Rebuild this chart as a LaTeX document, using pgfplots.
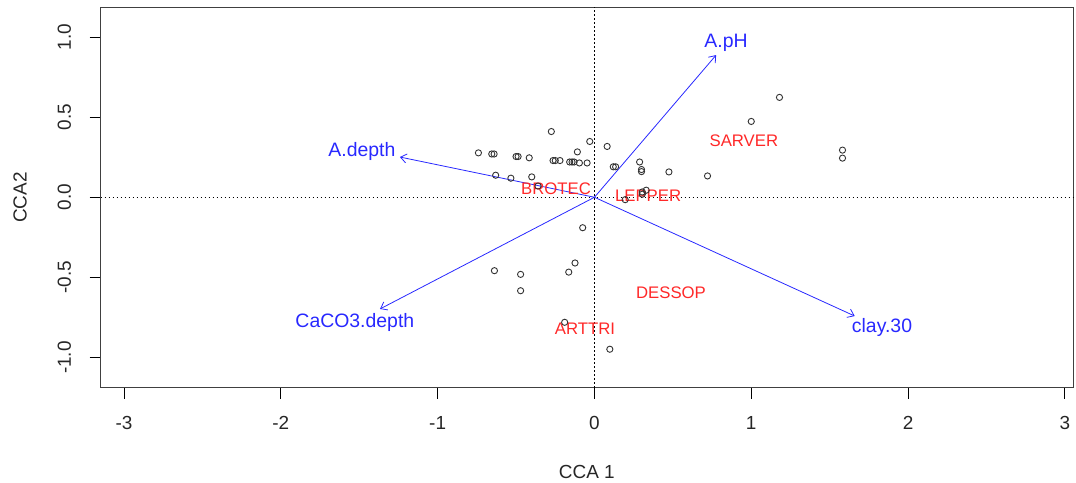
\documentclass[border=0pt]{standalone}
\usepackage{pgfplots}
\pgfplotsset{compat=1.18}
\usepackage{fontspec}
\setmainfont{Liberation Sans}
\usetikzlibrary{arrows.meta}
\definecolor{rblue}{RGB}{40,40,255}
\definecolor{rred}{RGB}{255,40,40}
\begin{document}
\begin{tikzpicture}
\begin{axis}[
  at={(0,0)}, anchor=south west,
  scale only axis, width=972.3bp, height=380.4bp,
  xmin=-3.149, xmax=3.052, ymin=-1.188, ymax=1.185,
  axis line style={black!75, line width=0.9bp},
  tick style={black, line width=0.9bp},
  tick align=outside, major tick length=11bp, tick pos=left,
  xtick={-3,-2,-1,0,1,2,3},
  xticklabels={-3,-2,-1,0,1,2,3},
  ytick={-1,-0.5,0,0.5,1},
  yticklabels={-1.0,-0.5,0.0,0.5,1.0},
  ticklabel style={font=\fontsize{19}{22}\selectfont, black!85},
  yticklabel style={xshift=-15bp, rotate=90, anchor=south},
  xticklabel style={yshift=-14bp, anchor=north},
  xlabel={CCA 1}, ylabel={CCA2},
  label style={font=\fontsize{19}{22}\selectfont, black!85},
  xlabel style={at={(axis description cs:0.5,-0.2216)}, anchor=center},
  ylabel style={at={(axis description cs:-0.083,0.5)}, anchor=center},
  clip=false,
]
% reference lines
\addplot[black, line width=1.1bp, dash pattern=on 1.3bp off 2.7bp] coordinates {(-3.149,0) (3.052,0)};
\addplot[black, line width=1.1bp, dash pattern=on 1.3bp off 2.7bp] coordinates {(0,-1.188) (0,1.185)};
% site scores
\addplot[only marks, mark=o, mark size=3.1bp, black!80, mark options={line width=0.9bp}] table {
x y
-0.74 0.277
-0.655 0.27
-0.64 0.27
-0.50 0.254
-0.487 0.254
-0.416 0.246
-0.275 0.41
-0.264 0.229
-0.25 0.229
-0.22 0.229
-0.158 0.22
-0.143 0.22
-0.13 0.22
-0.096 0.214
-0.047 0.214
-0.109 0.283
-0.03 0.348
0.081 0.317
0.12 0.19
0.135 0.19
0.288 0.22
0.30 0.173
0.30 0.16
0.475 0.158
-0.63 0.1375
-0.533 0.119
-0.40 0.127
-0.36 0.07
0.33 0.044
0.305 0.033
0.305 0.019
0.196 -0.015
1.18 0.623
1.0 0.473
1.582 0.294
1.582 0.244
0.721 0.133
-0.075 -0.19
-0.638 -0.458
-0.471 -0.481
-0.471 -0.583
-0.124 -0.41
-0.164 -0.467
-0.19 -0.78
0.098 -0.948
};
% biplot arrows
\addplot[rblue, line width=0.8bp, -{Straight Barb[length=6bp,width=9bp]}] coordinates {(0,0) (0.776,0.887)};
\addplot[rblue, line width=0.8bp, -{Straight Barb[length=6bp,width=9bp]}] coordinates {(0,0) (-1.241,0.251)};
\addplot[rblue, line width=0.8bp, -{Straight Barb[length=6bp,width=9bp]}] coordinates {(0,0) (-1.368,-0.697)};
\addplot[rblue, line width=0.8bp, -{Straight Barb[length=6bp,width=9bp]}] coordinates {(0,0) (1.66,-0.741)};
% arrow labels
\node[rblue, font=\fontsize{19.5}{22}\selectfont] at (axis cs:0.839,0.962) {A.pH};
\node[rblue, font=\fontsize{19.5}{22}\selectfont] at (axis cs:-1.483,0.288) {A.depth};
\node[rblue, font=\fontsize{19.5}{22}\selectfont] at (axis cs:-1.528,-0.779) {CaCO3.depth};
\node[rblue, font=\fontsize{19.5}{22}\selectfont] at (axis cs:1.834,-0.81) {clay.30};
% species labels
\node[rred, font=\fontsize{16.8}{20}\selectfont] at (axis cs:0.953,0.351) {SARVER};
\node[rred, font=\fontsize{16.8}{20}\selectfont] at (axis cs:-0.245,0.051) {BROTEC};
\node[rred, font=\fontsize{16.8}{20}\selectfont] at (axis cs:0.342,0.007) {LEPPER};
\node[rred, font=\fontsize{16.8}{20}\selectfont] at (axis cs:0.488,-0.598) {DESSOP};
\node[rred, font=\fontsize{16.8}{20}\selectfont] at (axis cs:-0.06,-0.822) {ARTTRI};
\end{axis}
\pgfresetboundingbox
\path (-100.7bp,-95.3bp) rectangle (975.3bp,387.7bp);
\end{tikzpicture}
\end{document}
